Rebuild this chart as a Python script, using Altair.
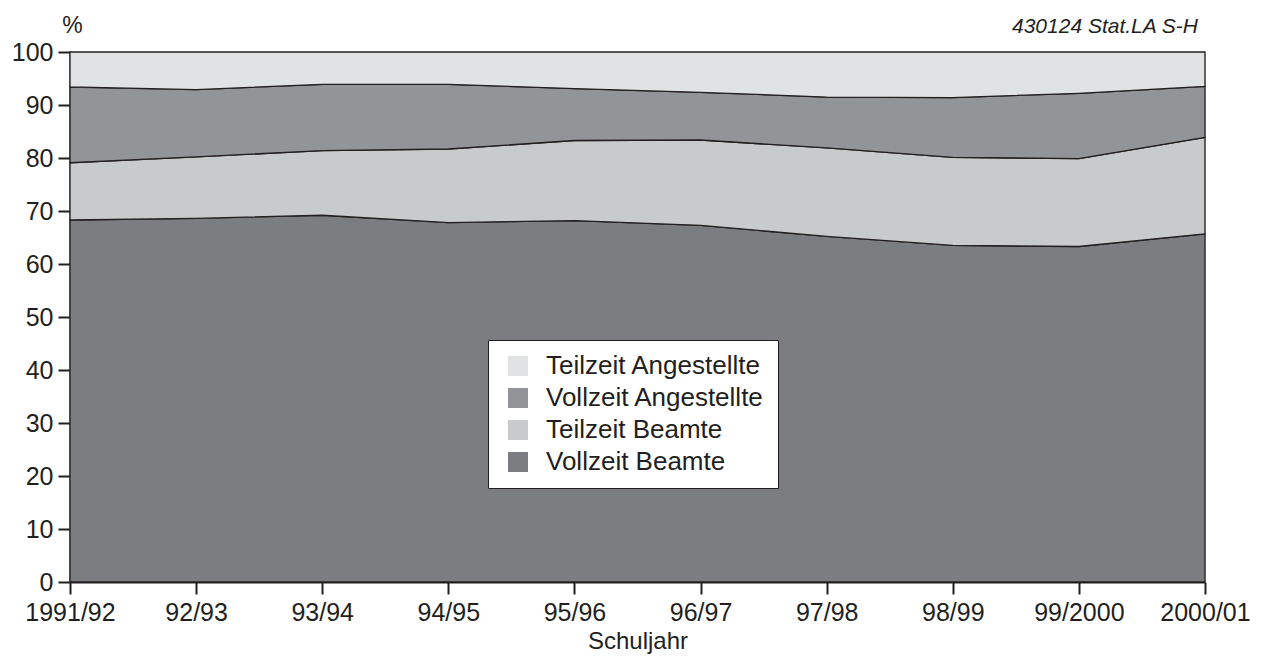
import altair as alt
import pandas as pd

years = ["1991/92", "92/93", "93/94", "94/95", "95/96", "96/97", "97/98", "98/99", "99/2000", "2000/01"]
vollzeit_beamte = [68.3, 68.6, 69.2, 67.8, 68.2, 67.3, 65.2, 63.5, 63.3, 65.7]
teilzeit_beamte = [10.8, 11.6, 12.2, 13.9, 15.1, 16.1, 16.7, 16.6, 16.6, 18.2]
vollzeit_angestellte = [14.3, 12.7, 12.5, 12.2, 9.8, 9.0, 9.6, 11.3, 12.3, 9.6]
teilzeit_angestellte = [6.6, 7.1, 6.1, 6.1, 6.9, 7.6, 8.5, 8.6, 7.8, 6.5]

series_names = ["Teilzeit Angestellte", "Vollzeit Angestellte", "Teilzeit Beamte", "Vollzeit Beamte"]
series_colors = ["#e1e2e4", "#939498", "#c9cacc", "#7c7d81"]
stack_rank = {"Vollzeit Beamte": 0, "Teilzeit Beamte": 1, "Vollzeit Angestellte": 2, "Teilzeit Angestellte": 3}

rows = []
for name, vals in [("Vollzeit Beamte", vollzeit_beamte), ("Teilzeit Beamte", teilzeit_beamte),
                   ("Vollzeit Angestellte", vollzeit_angestellte), ("Teilzeit Angestellte", teilzeit_angestellte)]:
    for y, v in zip(years, vals):
        rows.append({"Schuljahr": y, "Gruppe": name, "Anteil": v, "rank": stack_rank[name]})
df = pd.DataFrame(rows)

FONT = "Liberation Sans"
INK = "#231f20"

area = alt.Chart(df).mark_area(stroke=INK, strokeWidth=1.3, opacity=1).encode(
    x=alt.X("Schuljahr:N", sort=years, scale=alt.Scale(type="point", padding=0),
            axis=alt.Axis(title="Schuljahr", labelAngle=0, labelFontSize=25, titleFontSize=24,
                          titleFontWeight="normal", labelPadding=6,
                          titleY=66, titleBaseline="alphabetic",
                          tickSize=12, tickWidth=2, domainWidth=2, domainColor=INK,
                          tickColor=INK, labelColor=INK, titleColor=INK, labelFont=FONT,
                          titleFont=FONT, grid=False)),
    y=alt.Y("Anteil:Q", stack="zero", scale=alt.Scale(domain=[0, 100], nice=False),
            axis=alt.Axis(title="%", titleAngle=0, titleX=2, titleY=-20, titleAlign="center",
                          titleBaseline="alphabetic", titleFontSize=23, titleFontWeight="normal",
                          values=list(range(0, 101, 10)), labelFontSize=25, labelPadding=5,
                          tickSize=12, tickWidth=2, domainWidth=2, domainColor=INK,
                          tickColor=INK, labelColor=INK, titleColor=INK, labelFont=FONT,
                          titleFont=FONT, grid=False)),
    color=alt.Color("Gruppe:N", sort=series_names,
                    scale=alt.Scale(domain=series_names, range=series_colors),
                    legend=alt.Legend(title=None, orient="none", legendX=418, legendY=288,
                                      symbolType="square", symbolSize=400, symbolStrokeWidth=0,
                                      symbolOpacity=1, symbolOffset=4, labelFontSize=26,
                                      labelFont=FONT, labelColor=INK, labelOffset=15,
                                      rowPadding=6, padding=13, fillColor="white",
                                      strokeColor=INK, labelLimit=400)),
    order=alt.Order("rank:Q", sort="ascending"),
)

note = alt.Chart(pd.DataFrame({"t": ["430124 Stat.LA S-H"]})).mark_text(
    align="right", baseline="alphabetic", fontStyle="italic", fontSize=21, font=FONT, color=INK
).encode(x=alt.value(1128), y=alt.value(-19), text="t:N")

chart = alt.layer(area, note).properties(
    width=1135, height=530,
    autosize=alt.AutoSizeParams(type="none"),
    padding={"left": 62, "top": 44, "right": 49, "bottom": 72},
).configure_view(stroke=None).configure(background="white")

chart.save("out.html", embed_options={"renderer": "svg", "actions": False})
